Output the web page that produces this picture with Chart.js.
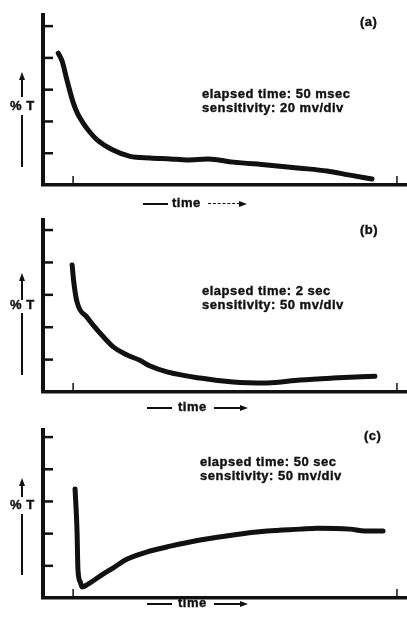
<!DOCTYPE html>
<html>
<head>
<meta charset="utf-8">
<script src="https://cdn.jsdelivr.net/npm/chart.js@4/dist/chart.umd.min.js"></script>
<style>
  html, body { margin: 0; padding: 0; background: #fff; }
  #page { position: relative; width: 407px; height: 618px; overflow: hidden;
          font-family: "Liberation Sans", Arial, sans-serif; font-weight: bold;
          font-size: 13px; letter-spacing: 0.5px; color: #111; }
  canvas { position: absolute; left: 0; }
  .lbl { position: absolute; white-space: nowrap; line-height: 14px; -webkit-text-stroke: 0.4px #111; }
  .vline { position: absolute; width: 2px; background: #111; }
  .head { position: absolute; width: 0; height: 0; border-left: 3px solid transparent;
          border-right: 3px solid transparent; border-bottom: 8px solid #111; }
  .hline { position: absolute; height: 1.5px; background: #111; }
  .hdash { position: absolute; height: 0; border-top: 1.5px dashed #111; }
  .rhead { position: absolute; width: 0; height: 0; border-top: 3px solid transparent;
           border-bottom: 3px solid transparent; border-left: 8px solid #111; }
</style>
</head>
<body>
<div id="page">
  <canvas id="chartA" width="407" height="200" style="top:0px"></canvas>
  <canvas id="chartB" width="407" height="200" style="top:205px"></canvas>
  <canvas id="chartC" width="407" height="200" style="top:410px"></canvas>

  <!-- panel (a) -->
  <div class="lbl" style="left:360px; top:15px">(a)</div>
  <div class="lbl" style="left:202px; top:87px">elapsed time: 50 msec<br>sensitivity: 20 mv/div</div>
  <div class="head" style="left:19px; top:72px"></div>
  <div class="vline" style="left:21px; top:78px; height:19px"></div>
  <div class="lbl" style="left:10px; top:99px">% T</div>
  <div class="vline" style="left:21px; top:115px; height:52px"></div>
  <div class="hline" style="left:143px; top:203px; width:25px"></div>
  <div class="lbl" style="left:172px; top:196px">time</div>
  <div class="hdash" style="left:208px; top:203px; width:32px"></div>
  <div class="rhead" style="left:239px; top:201px"></div>

  <!-- panel (b) -->
  <div class="lbl" style="left:360px; top:223px">(b)</div>
  <div class="lbl" style="left:202px; top:284px">elapsed time: 2 sec<br>sensitivity: 50 mv/div</div>
  <div class="head" style="left:19px; top:273px"></div>
  <div class="vline" style="left:21px; top:279px; height:21px"></div>
  <div class="lbl" style="left:10px; top:298px">% T</div>
  <div class="vline" style="left:21px; top:313px; height:62px"></div>
  <div class="hline" style="left:147px; top:407px; width:25px"></div>
  <div class="lbl" style="left:178px; top:400px">time</div>
  <div class="hline" style="left:214px; top:407px; width:28px"></div>
  <div class="rhead" style="left:240px; top:405px"></div>

  <!-- panel (c) -->
  <div class="lbl" style="left:364px; top:429px">(c)</div>
  <div class="lbl" style="left:200px; top:455px">elapsed time: 50 sec<br>sensitivity: 50 mv/div</div>
  <div class="head" style="left:19px; top:478px"></div>
  <div class="vline" style="left:21px; top:484px; height:13px"></div>
  <div class="lbl" style="left:10px; top:498px">% T</div>
  <div class="vline" style="left:21px; top:514px; height:61px"></div>
  <div class="hline" style="left:147px; top:603px; width:25px"></div>
  <div class="lbl" style="left:178px; top:596px">time</div>
  <div class="hline" style="left:214px; top:603px; width:28px"></div>
  <div class="rhead" style="left:240px; top:601px"></div>
</div>

<script>
"use strict";

// tick marks on both axes (arbitrary units)
const timeTicks = [0, 10];
const transTicks = [1, 2, 3, 4, 5];

// (a) elapsed time 50 msec, 20 mv/div
const timeA = [-0.46, -0.34, -0.19, 0, 0.15, 0.31, 0.52, 0.74, 1.23, 1.76, 2.38, 3.0, 3.52, 4.17, 4.94, 5.99, 7.01, 7.84, 8.55, 9.23];
const transA = [4.15, 3.90, 3.30, 2.60, 2.22, 1.95, 1.66, 1.42, 1.10, 0.90, 0.85, 0.82, 0.79, 0.82, 0.72, 0.63, 0.53, 0.44, 0.31, 0.19];

// (b) elapsed time 2 sec, 50 mv/div
const timeB = [-0.03, 0.02, 0.12, 0.43, 0.83, 1.23, 1.67, 2.06, 2.38, 2.9, 3.92, 4.94, 5.99, 7.01, 8.02, 9.32];
const transB = [3.92, 3.40, 2.78, 2.31, 1.82, 1.40, 1.14, 0.98, 0.80, 0.62, 0.43, 0.31, 0.28, 0.37, 0.43, 0.49];

// (c) elapsed time 50 sec, 50 mv/div
const timeC = [0.06, 0.12, 0.15, 0.22, 0.28, 0.46, 0.83, 1.23, 1.67, 2.38, 3.0, 3.92, 4.94, 5.99, 7.01, 7.53, 8.55, 9.01, 9.57];
const transC = [3.39, 2.11, 0.87, 0.50, 0.34, 0.43, 0.68, 0.93, 1.21, 1.46, 1.61, 1.80, 1.96, 2.08, 2.14, 2.17, 2.14, 2.08, 2.08];

const ink = "#111";

// ticks point inward, so draw them from the scales ourselves
const inwardTicks = {
    id: "inwardTicks",
    afterDraw: function (chart) {
        const ctx = chart.ctx;
        const area = chart.chartArea;
        ctx.save();
        ctx.strokeStyle = ink;
        ctx.lineCap = "butt";

        ctx.lineWidth = 2.5;
        chart.scales.y.ticks.forEach(function (t) {
            const py = chart.scales.y.getPixelForValue(t.value);
            ctx.beginPath();
            ctx.moveTo(area.left, py);
            ctx.lineTo(area.left + 10, py);
            ctx.stroke();
        });

        ctx.lineWidth = 1.5;
        chart.scales.x.ticks.forEach(function (t) {
            const px = chart.scales.x.getPixelForValue(t.value);
            ctx.beginPath();
            ctx.moveTo(px, area.bottom);
            ctx.lineTo(px, area.bottom - 9);
            ctx.stroke();
        });
        ctx.restore();
    }
};

function makePanel(id, times, values, yMax, padTop, padBottom) {
    const points = times.map(function (t, i) { return { x: t, y: values[i] }; });

    return new Chart(document.getElementById(id).getContext("2d"), {
        type: "line",
        data: {
            datasets: [{
                data: points,
                borderColor: ink,
                borderWidth: 5,
                pointRadius: 0,
                cubicInterpolationMode: "monotone",
                borderCapStyle: "round",
                borderJoinStyle: "round",
                fill: false
            }]
        },
        options: {
            responsive: false,
            animation: false,
            events: [],
            layout: { padding: { left: 43, right: 0, top: padTop, bottom: padBottom } },
            plugins: { legend: { display: false }, tooltip: { enabled: false } },
            scales: {
                x: {
                    type: "linear",
                    min: -0.93,
                    max: 10.31,
                    afterBuildTicks: function (s) { s.ticks = timeTicks.map(function (v) { return { value: v }; }); },
                    ticks: { display: false },
                    grid: { drawOnChartArea: false, drawTicks: false },
                    border: { color: ink, width: 3.5 }
                },
                y: {
                    min: 0,
                    max: yMax,
                    afterBuildTicks: function (s) { s.ticks = transTicks.map(function (v) { return { value: v }; }); },
                    ticks: { display: false },
                    grid: { drawOnChartArea: false, drawTicks: false },
                    border: { color: ink, width: 4 }
                }
            }
        },
        plugins: [inwardTicks]
    });
}

makePanel("chartA", timeA, transA, 5.35, 15, 15);
makePanel("chartB", timeB, transB, 5.31, 15, 13);
makePanel("chartC", timeC, transC, 5.22, 20, 12);
</script>
</body>
</html>
